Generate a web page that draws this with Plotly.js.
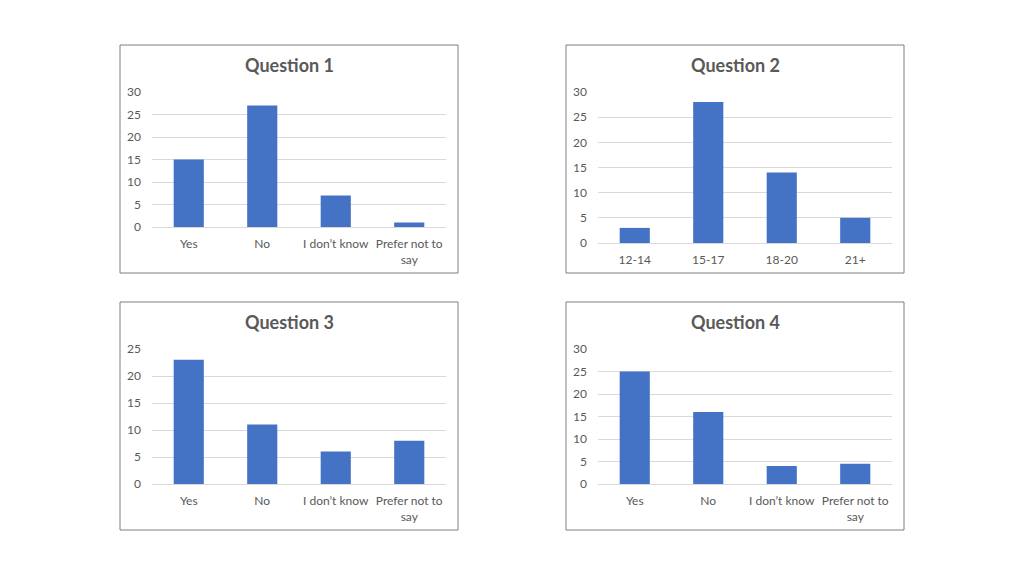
<!DOCTYPE html>
<html>
<head>
<meta charset="utf-8">
<script src="https://cdn.plot.ly/plotly-3.0.1.min.js"></script>
<style>
  html, body { margin: 0; padding: 0; background: #fff; }
  #chart { width: 1024px; height: 576px; }
</style>
</head>
<body>
<div id="chart"></div>
<script>
// answers per question
var answerCats = ['Yes', 'No', 'I don\u2019t know', 'Prefer not to<br>say'];
var ageCats = ['12-14', '15-17', '18-20', '21+'];

var q1Values = [15, 27, 7, 1];
var q2Values = [3, 28, 14, 5];
var q3Values = [23, 11, 6, 8];
var q4Values = [25, 16, 4, 4.5];

var titles = ['Question 1', 'Question 2', 'Question 3', 'Question 4'];

var W = 1024, H = 576;
function px(x) { return x / W; }
function py(y) { return 1 - y / H; }

var barColor = '#4472C4';
var textColor = '#595959';
var gridColor = '#d9d9d9';
var fontFam = 'Lato, "Open Sans", sans-serif';

function bar(cats, vals, n) {
  return {
    type: 'bar',
    x: cats,
    y: vals,
    xaxis: 'x' + (n === 1 ? '' : n),
    yaxis: 'y' + (n === 1 ? '' : n),
    marker: { color: barColor },
    hoverinfo: 'x+y',
    showlegend: false
  };
}

var data = [
  bar(answerCats, q1Values, 1),
  bar(ageCats, q2Values, 2),
  bar(answerCats, q3Values, 3),
  bar(answerCats, q4Values, 4)
];

function xAx(x0, x1, anchor) {
  return {
    domain: [px(x0), px(x1)],
    anchor: anchor,
    showgrid: false,
    showline: true,
    linecolor: gridColor,
    linewidth: 1,
    ticks: '',
    ticklabelstandoff: 6,
    tickfont: { size: 12, color: textColor, family: fontFam },
    fixedrange: true
  };
}
function yAx(yTop, yBot, max, anchor) {
  return {
    domain: [py(yBot), py(yTop)],
    anchor: anchor,
    range: [0, max],
    dtick: 5,
    showgrid: true,
    gridcolor: gridColor,
    gridwidth: 1,
    zeroline: false,
    showline: false,
    ticks: '',
    ticklabelstandoff: 10,
    tickfont: { size: 12, color: textColor, family: fontFam },
    fixedrange: true
  };
}

// chart boxes [left, top, right, bottom] in px
var boxes = [[120, 45, 458, 273], [566, 45, 904, 273], [120, 302, 458, 530], [566, 302, 904, 530]];

var shapes = boxes.map(function (b) {
  return {
    type: 'rect', xref: 'paper', yref: 'paper',
    x0: px(b[0]), x1: px(b[2]), y0: py(b[3]), y1: py(b[1]),
    line: { color: '#7f7f7f', width: 1 }, fillcolor: 'rgba(0,0,0,0)', layer: 'below'
  };
});

var annotations = boxes.map(function (b, i) {
  return {
    text: '<b>' + titles[i] + '</b>',
    xref: 'paper', yref: 'paper',
    x: px((b[0] + b[2]) / 2), y: py(b[1] + 20),
    xanchor: 'center', yanchor: 'middle',
    showarrow: false,
    font: { size: 18, color: textColor, family: fontFam }
  };
});

var layout = {
  width: W,
  height: H,
  margin: { l: 0, r: 0, t: 0, b: 0 },
  paper_bgcolor: '#ffffff',
  plot_bgcolor: '#ffffff',
  bargap: 0.59,
  font: { family: fontFam, color: textColor },
  xaxis: xAx(152, 446, 'y'),
  yaxis: yAx(92, 227, 30, 'x'),
  xaxis2: xAx(598, 892, 'y2'),
  yaxis2: yAx(92, 243, 30, 'x2'),
  xaxis3: xAx(152, 446, 'y3'),
  yaxis3: yAx(349, 484, 25, 'x3'),
  xaxis4: xAx(598, 892, 'y4'),
  yaxis4: yAx(349, 484, 30, 'x4'),
  shapes: shapes,
  annotations: annotations
};

Plotly.newPlot('chart', data, layout, { displayModeBar: false, staticPlot: true });
</script>
</body>
</html>
